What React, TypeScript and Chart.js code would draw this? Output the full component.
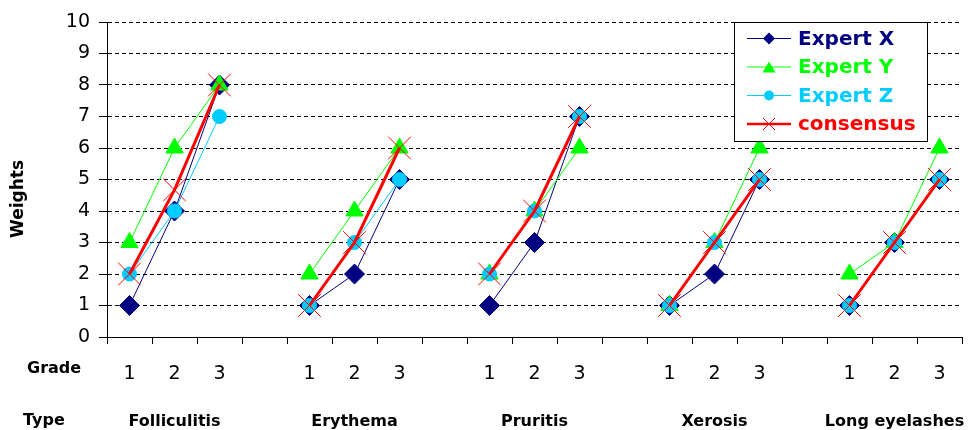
import React, { useEffect, useRef } from "react";
import { Chart, registerables } from "chart.js";

Chart.register(...registerables);

const types = ["Folliculitis", "Erythema", "Pruritis", "Xerosis", "Long eyelashes"];
const grades = ["1", "2", "3"];
const expertX = [1, 4, 8, 1, 2, 5, 1, 3, 7, 1, 2, 5, 1, 3, 5];
const expertY = [3, 6, 8, 2, 4, 6, 2, 4, 6, 1, 3, 6, 2, 3, 6];
const expertZ = [2, 4, 7, 1, 3, 5, 2, 4, 7, 1, 3, 5, 1, 3, 5];
const consensus = [2, 4.67, 8, 1, 3, 6, 2, 4, 7, 1, 3, 5, 1, 3, 5];
const seriesNames = ["Expert X", "Expert Y", "Expert Z", "consensus"];

const FONT = '"DejaVu Sans"';

function buildLabels(): string[] {
  const out: string[] = [];
  types.forEach((_, i) => {
    grades.forEach((g) => out.push(g));
    if (i < types.length - 1) out.push("");
  });
  return out;
}

function spread(values: number[]): (number | null)[] {
  const out: (number | null)[] = [];
  types.forEach((_, i) => {
    grades.forEach((_g, j) => out.push(values[i * grades.length + j]));
    if (i < types.length - 1) out.push(null);
  });
  return out;
}

function drawMarker(ctx: CanvasRenderingContext2D, style: string, x: number, y: number, r: number, color: string) {
  ctx.save();
  ctx.fillStyle = color;
  ctx.strokeStyle = color;
  ctx.lineWidth = 1;
  ctx.beginPath();
  if (style === "rectRot") {
    ctx.moveTo(x - r, y);
    ctx.lineTo(x, y - r);
    ctx.lineTo(x + r, y);
    ctx.lineTo(x, y + r);
    ctx.closePath();
    ctx.fill();
  } else if (style === "triangle") {
    const h = r * 1.7;
    ctx.moveTo(x, y - h / 2);
    ctx.lineTo(x + r, y + h / 2);
    ctx.lineTo(x - r, y + h / 2);
    ctx.closePath();
    ctx.fill();
  } else if (style === "circle") {
    ctx.arc(x, y, r, 0, Math.PI * 2);
    ctx.fill();
  } else {
    ctx.moveTo(x - r, y - r);
    ctx.lineTo(x + r, y + r);
    ctx.moveTo(x + r, y - r);
    ctx.lineTo(x - r, y + r);
    ctx.stroke();
  }
  ctx.restore();
}

const annotationsPlugin = {
  id: "annotations",
  afterDraw(chart: any) {
    const ctx: CanvasRenderingContext2D = chart.ctx;
    const xScale = chart.scales.x;
    ctx.save();
    ctx.fillStyle = "#000";
    ctx.font = `bold 17px ${FONT}`;
    ctx.textAlign = "center";
    ctx.textBaseline = "middle";
    ctx.translate(19, 199);
    ctx.rotate(-Math.PI / 2);
    ctx.fillText("Weights", 0, 0);
    ctx.restore();

    ctx.save();
    ctx.fillStyle = "#000";
    ctx.font = `bold 16px ${FONT}`;
    ctx.textBaseline = "alphabetic";
    ctx.textAlign = "left";
    ctx.fillText("Grade", 27, 373);
    ctx.fillText("Type", 23, 425);
    ctx.textAlign = "center";
    types.forEach((t, i) => {
      const px = xScale.getPixelForValue(i * (grades.length + 1) + 1);
      ctx.fillText(t, px, 426);
    });
    ctx.restore();

    const bx = 734.5, by = 22.5, bw = 193, bh = 119;
    ctx.save();
    ctx.fillStyle = "#fff";
    ctx.fillRect(bx, by, bw, bh);
    ctx.strokeStyle = "#000";
    ctx.lineWidth = 1;
    ctx.strokeRect(bx, by, bw, bh);
    const rowY = [38.5, 67, 95.5, 124];
    const legendMarkers = [
      { style: "rectRot", r: 6 },
      { style: "triangle", r: 6.5 },
      { style: "circle", r: 5 },
      { style: "crossRot", r: 6 },
    ];
    chart.data.datasets.forEach((ds: any, i: number) => {
      const y = rowY[i];
      const color = ds.borderColor;
      ctx.strokeStyle = color;
      ctx.lineWidth = i === 3 ? 2.5 : 1;
      ctx.beginPath();
      ctx.moveTo(747, y);
      ctx.lineTo(791, y);
      ctx.stroke();
      drawMarker(ctx, legendMarkers[i].style, 769, y, legendMarkers[i].r, color);
      ctx.fillStyle = color;
      ctx.font = `bold 20px ${FONT}`;
      ctx.textAlign = "left";
      ctx.textBaseline = "middle";
      ctx.fillText(ds.label, 798, y + 1);
    });
    ctx.restore();
  },
};

export default function App() {
  const canvasRef = useRef<HTMLCanvasElement | null>(null);

  useEffect(() => {
    if (!canvasRef.current) return;
    const labels = buildLabels();
    const chart = new Chart(canvasRef.current, {
      type: "line",
      data: {
        labels,
        datasets: [
          {
            label: seriesNames[0],
            data: spread(expertX),
            borderColor: "#000080",
            backgroundColor: "#000080",
            borderWidth: 1,
            pointStyle: "rectRot",
            pointRadius: 10,
            pointBackgroundColor: "#000080",
            pointBorderColor: "#000080",
            pointBorderWidth: 1,
            spanGaps: false,
            tension: 0,
            order: 4,
          },
          {
            label: seriesNames[1],
            data: spread(expertY),
            borderColor: "#00ff00",
            backgroundColor: "#00ff00",
            borderWidth: 1,
            pointStyle: "triangle",
            pointRadius: 10,
            pointBackgroundColor: "#00ff00",
            pointBorderColor: "#00ff00",
            pointBorderWidth: 1,
            spanGaps: false,
            tension: 0,
            order: 3,
          },
          {
            label: seriesNames[2],
            data: spread(expertZ),
            borderColor: "#00ccff",
            backgroundColor: "#00ccff",
            borderWidth: 1,
            pointStyle: "circle",
            pointRadius: 7,
            pointBackgroundColor: "#00ccff",
            pointBorderColor: "#00ccff",
            pointBorderWidth: 1,
            spanGaps: false,
            tension: 0,
            order: 2,
          },
          {
            label: seriesNames[3],
            data: spread(consensus),
            borderColor: "#ff0000",
            backgroundColor: "#ff0000",
            borderWidth: 3,
            pointStyle: "crossRot",
            pointRadius: 16,
            pointBorderColor: "#ff0000",
            pointBorderWidth: 1,
            spanGaps: false,
            tension: 0,
            order: 1,
          },
        ],
      },
      options: {
        responsive: false,
        maintainAspectRatio: false,
        animation: false,
        events: [],
        layout: { autoPadding: false, padding: { top: 22, right: 10, left: 0, bottom: 0 } },
        plugins: {
          legend: { display: false },
          tooltip: { enabled: false },
          title: { display: false },
        },
        scales: {
          x: {
            type: "category",
            offset: true,
            afterFit: (scale: any) => {
              scale.height = 93;
              scale.paddingLeft = 0;
              scale.paddingRight = 0;
            },
            grid: {
              offset: true,
              drawOnChartArea: false,
              drawTicks: true,
              tickLength: 7,
              color: "#000",
            },
            border: { display: true, color: "#000", width: 1 },
            ticks: {
              autoSkip: false,
              maxRotation: 0,
              minRotation: 0,
              padding: 19,
              color: "#000",
              font: { family: FONT, size: 19 },
            },
          },
          y: {
            min: 0,
            max: 10,
            afterFit: (scale: any) => {
              scale.width = 107;
            },
            grid: {
              color: "#000",
              lineWidth: 1,
              tickLength: 8,
              tickBorderDash: [],
            },
            border: { display: true, color: "#000", width: 1, dash: [4, 3] },
            ticks: {
              stepSize: 1,
              padding: 9,
              color: "#000",
              font: { family: FONT, size: 19 },
            },
          },
        },
      },
      plugins: [annotationsPlugin],
    } as any);
    return () => chart.destroy();
  }, []);

  return (
    <div style={{ position: "absolute", left: 0, top: 0, width: 972, height: 430, background: "#fff" }}>
      <canvas ref={canvasRef} width={972} height={430} style={{ display: "block" }} />
    </div>
  );
}
